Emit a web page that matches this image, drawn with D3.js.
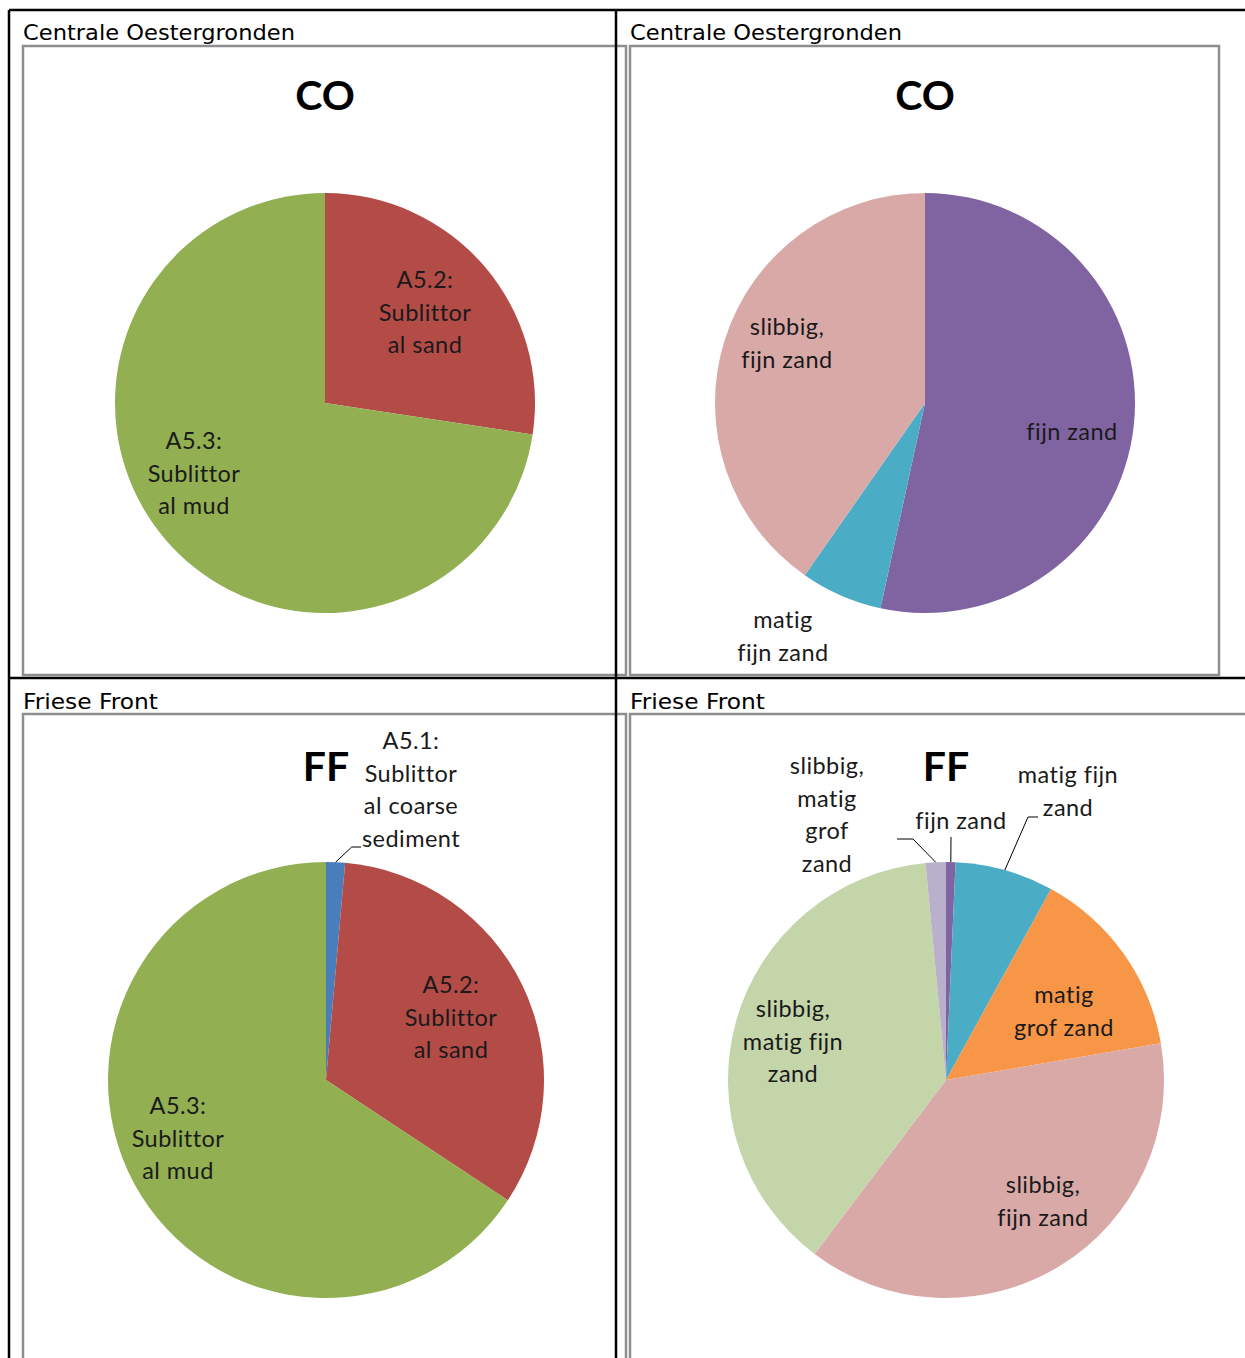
<!DOCTYPE html>
<html><head><meta charset="utf-8">
<script src="https://cdn.jsdelivr.net/npm/d3@7"></script>
<style>body{margin:0;background:#fff}svg{display:block}text{font-variant-ligatures:none}</style>
</head><body>
<svg id="c" width="1245" height="1358"></svg>
<script>
// ---- data ----
const panelHeaders = ["Centrale Oestergronden", "Centrale Oestergronden", "Friese Front", "Friese Front"];
const chartTitles = ["CO", "CO", "FF", "FF"];

const coHabitatCats = ["A5.2: Sublittoral sand", "A5.3: Sublittoral mud"];
const coHabitatVals = [27.4, 72.6];

const coSedimentCats = ["fijn zand", "matig fijn zand", "slibbig, fijn zand"];
const coSedimentVals = [53.4, 6.3, 40.3];

const ffHabitatCats = ["A5.1: Sublittoral coarse sediment", "A5.2: Sublittoral sand", "A5.3: Sublittoral mud"];
const ffHabitatVals = [1.4, 32.9, 65.7];

const ffSedimentCats = ["fijn zand", "matig fijn zand", "matig grof zand", "slibbig, fijn zand", "slibbig, matig fijn zand", "slibbig, matig grof zand"];
const ffSedimentVals = [0.7, 7.3, 14.3, 38.0, 38.2, 1.5];

// label text as wrapped in the original
const coHabitatLabels = [["A5.2:", "Sublittor", "al sand"], ["A5.3:", "Sublittor", "al mud"]];
const coSedimentLabels = [["fijn zand"], ["matig", "fijn zand"], ["slibbig,", "fijn zand"]];
const ffHabitatLabels = [["A5.1:", "Sublittor", "al coarse", "sediment"], ["A5.2:", "Sublittor", "al sand"], ["A5.3:", "Sublittor", "al mud"]];
const ffSedimentLabels = [["fijn zand"], ["matig fijn", "zand"], ["matig", "grof zand"], ["slibbig,", "fijn zand"], ["slibbig,", "matig fijn", "zand"], ["slibbig,", "matig", "grof", "zand"]];

// ---- styles / layout ----
const habitatColors = {"A5.1: Sublittoral coarse sediment": "#4A7EBB", "A5.2: Sublittoral sand": "#B34B47", "A5.3: Sublittoral mud": "#92AF52"};
const sedimentColors = {"fijn zand": "#8064A2", "matig fijn zand": "#4BACC6", "matig grof zand": "#F79646", "slibbig, fijn zand": "#D9A9A8", "slibbig, matig fijn zand": "#C4D5AA", "slibbig, matig grof zand": "#B9B0CC"};

const panels = [
  {cats: coHabitatCats, vals: coHabitatVals, labels: coHabitatLabels, colors: habitatColors,
   hx: 23, hy: 40, cx: 325, cy: 403, r: 210, ty: 110,
   lpos: [[100, -123], [-131, 38]], leaders: [null, null]},
  {cats: coSedimentCats, vals: coSedimentVals, labels: coSedimentLabels, colors: sedimentColors,
   hx: 630, hy: 40, cx: 925, cy: 403, r: 210, ty: 110,
   lpos: [[147, 29], [-142, 217], [-138, -76]], leaders: [null, null, null]},
  {cats: ffHabitatCats, vals: ffHabitatVals, labels: ffHabitatLabels, colors: habitatColors,
   hx: 23, hy: 709, cx: 326, cy: 1080, r: 218, ty: 781, tx: 326,
   lpos: [[85, -339], [125, -95], [-148, 26]], leaders: [[[25.7, -233], [35, -233]], null, null]},
  {cats: ffSedimentCats, vals: ffSedimentVals, labels: ffSedimentLabels, colors: sedimentColors,
   hx: 630, hy: 709, cx: 946, cy: 1080, r: 218, ty: 781,
   lpos: [[15, -259], [122, -305], [118, -85], [97, 105], [-153, -71], [-119, -314]],
   leaders: [[[5, -243]], [[82, -263], [92, -263]], null, null, null, [[-33, -241], [-49, -241]]]}
];

const svg = d3.select("#c");
const lineH = 32.5;

panels.forEach((p, i) => {
  const g = svg.append("g");
  // header
  g.append("text").attr("x", p.hx).attr("y", p.hy)
    .attr("font-family", "DejaVu Sans, Verdana, sans-serif").attr("font-size", 20.5)
    .attr("fill", "#000").attr("textLength", panelHeaders[i] === "Friese Front" ? 135 : 272)
    .attr("lengthAdjust", "spacingAndGlyphs")
    .text(panelHeaders[i]);
  // chart title
  g.append("text").attr("x", p.tx || p.cx).attr("y", p.ty).attr("text-anchor", "middle")
    .attr("font-family", "Lato, sans-serif").attr("font-weight", "bold").attr("font-size", 41)
    .attr("fill", "#000").text(chartTitles[i]);

  const pie = d3.pie().sort(null).value(d => d.v);
  const arcs = pie(p.cats.map((c, k) => ({c, v: p.vals[k], k})));
  const arc = d3.arc().innerRadius(0).outerRadius(p.r);
  const pg = g.append("g").attr("transform", `translate(${p.cx},${p.cy})`);
  pg.selectAll("path.slice").data(arcs).enter().append("path")
    .attr("class", "slice").attr("d", arc)
    .attr("fill", d => p.colors[d.data.c]);

  // leader lines
  arcs.forEach((d, k) => {
    const pts = p.leaders[k];
    if (!pts) return;
    const mid = (d.startAngle + d.endAngle) / 2;
    const start = [p.r * Math.sin(mid), -p.r * Math.cos(mid)];
    pg.append("path").attr("d", d3.line()([start, ...pts]))
      .attr("fill", "none").attr("stroke", "#000").attr("stroke-width", 1);
  });

  // labels
  arcs.forEach((d, k) => {
    const [lx, ly] = p.lpos[k];
    const t = pg.append("text").attr("text-anchor", "middle")
      .attr("font-family", "Lato, sans-serif").attr("font-size", 23.5)
      .attr("letter-spacing", 0.45).attr("fill", "#1a1a1a");
    p.labels[k].forEach((ln, j) => {
      t.append("tspan").attr("x", lx).attr("y", ly + j * lineH).attr("dy", "0.36em").text(ln);
    });
  });
});

// chart frames (gray)
const frameColor = "#8e8e8e";
const frames = [[23, 46, 603, 629], [630, 46, 589, 629], [23, 714, 603, 700], [630, 714, 700, 700]];
svg.selectAll("rect.frame").data(frames).enter().append("rect")
  .attr("class", "frame")
  .attr("x", d => d[0]).attr("y", d => d[1]).attr("width", d => d[2]).attr("height", d => d[3])
  .attr("fill", "none").attr("stroke", frameColor).attr("stroke-width", 2.5);

// table borders (black)
const bl = [[9, 10, 1245, 10], [9, 10, 9, 1358], [616, 10, 616, 1358], [9, 678, 1245, 678]];
svg.selectAll("line.tb").data(bl).enter().append("line")
  .attr("x1", d => d[0]).attr("y1", d => d[1]).attr("x2", d => d[2]).attr("y2", d => d[3])
  .attr("stroke", "#000").attr("stroke-width", 2.5);
</script>
</body></html>
